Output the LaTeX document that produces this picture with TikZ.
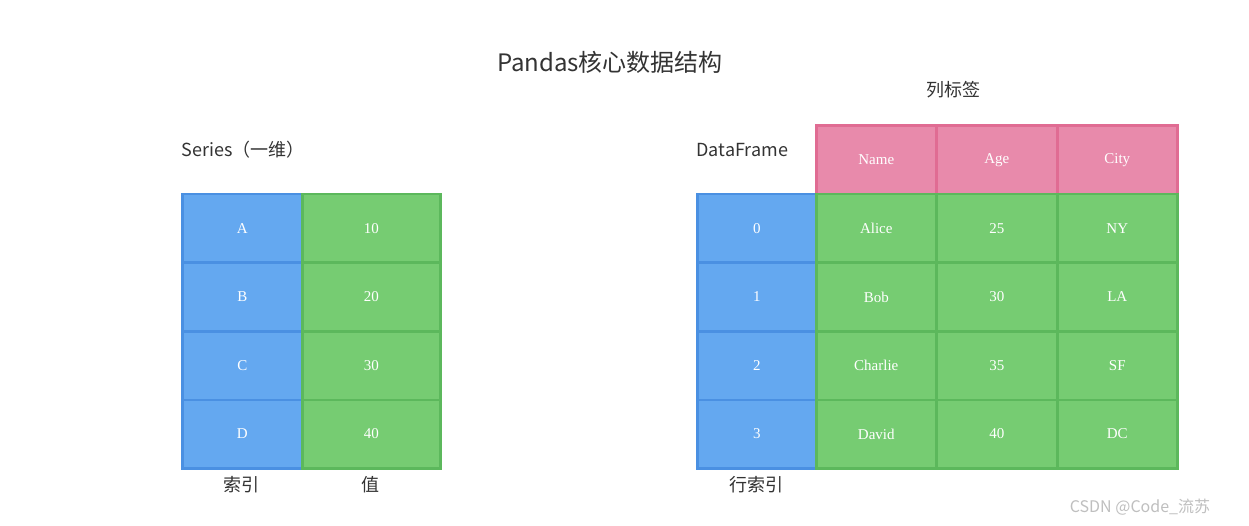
\documentclass[tikz,border=0pt]{standalone}
\usepackage{fontspec}
\setmainfont{Liberation Serif}
\newfontfamily\cjk{Noto Sans CJK SC}
\definecolor{idxfill}{HTML}{64A8F0}
\definecolor{idxline}{HTML}{4A90E2}
\definecolor{valfill}{HTML}{76CC72}
\definecolor{valline}{HTML}{5CB85C}
\definecolor{hdrfill}{HTML}{E88AAB}
\definecolor{hdrline}{HTML}{E06C93}
\definecolor{txtgray}{HTML}{333333}
\tikzset{
  cell/.style={draw,line width=2.5pt,minimum height=68.5pt,inner sep=0pt,
    text=white,font=\fontsize{15}{18}\selectfont,anchor=north west},
  idxcell/.style={cell,fill=idxfill,draw=idxline,minimum width=120pt},
  valcell/.style={cell,fill=valfill,draw=valline,minimum width=120pt},
  hdrcell/.style={cell,fill=hdrfill,draw=hdrline,minimum width=120pt},
  caption/.style={font=\cjk\fontsize{18}{22}\selectfont,text=txtgray},
}
\begin{document}
\begin{tikzpicture}[x=1pt,y=-1pt]
  \useasboundingbox[fill=white] (0,0) rectangle (1249,526);

  % ---- Titles --------------------------------------------------
  \node[font=\cjk\fontsize{24}{28}\selectfont,text=txtgray] (title) at (610,62) {Pandas核心数据结构};
  \node[caption] (coltitle) at (953,90) {列标签};
  \node[caption,anchor=west] (sertitle) at (178,150) {Series（一维）};
  \node[caption,anchor=west] (dftitle) at (693,150) {DataFrame};

  % ---- Series --------------------------------------------------
  \foreach \k/\v [count=\i from 0] in {A/10,B/20,C/30,D/40} {
    \node[idxcell] (s\i) at (181,193+68.5*\i) {\k};
    \node[valcell,minimum width=138pt] (v\i) at (301,193+68.5*\i) {\v};
  }
  \node[caption] (idxlbl) at (241,485) {索引};
  \node[caption] (vallbl) at (370,485) {值};

  % ---- DataFrame -----------------------------------------------
  \foreach \h [count=\j from 0] in {Name,Age,City}
    \node[hdrcell] (h\j) at (815+120.5*\j,124.5) {\h};
  \foreach \n/\a/\c [count=\i from 0] in {Alice/25/NY,Bob/30/LA,Charlie/35/SF,David/40/DC} {
    \node[idxcell,minimum width=119pt] (r\i) at (696,193+68.5*\i) {\i};
    \node[valcell] (n\i) at (815,193+68.5*\i) {\n};
    \node[valcell] (a\i) at (935.5,193+68.5*\i) {\a};
    \node[valcell] (c\i) at (1056,193+68.5*\i) {\c};
  }
  \node[caption] (rowlbl) at (756,485) {行索引};

  % watermark
  \node[font=\cjk\fontsize{16}{20}\selectfont,text=black!25] (mark) at (1140,507) {CSDN @Code\_流苏};
\end{tikzpicture}
\end{document}
